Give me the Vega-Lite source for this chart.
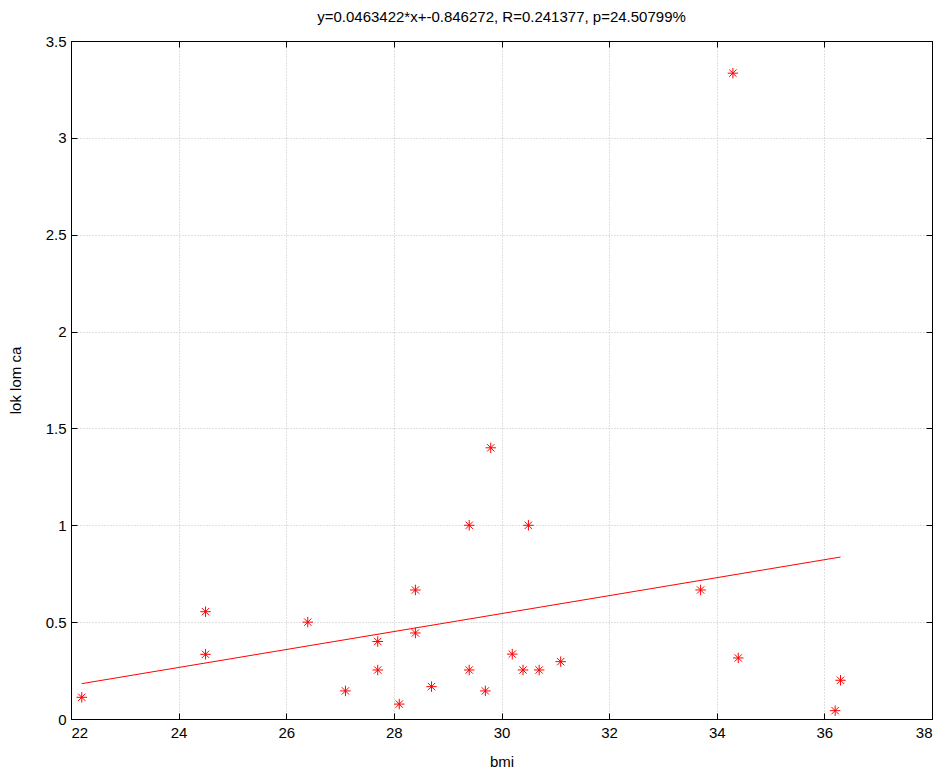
{
  "$schema": "https://vega.github.io/schema/vega-lite/v6.json",
  "width": 861,
  "height": 678,
  "autosize": {"type": "none"},
  "padding": {"left": 71, "top": 41, "right": 15, "bottom": 55},
  "background": "white",
  "config": {
    "font": "Liberation Sans",
    "view": {"stroke": "#000000", "strokeWidth": 1},
    "axis": {
      "labelFont": "Liberation Sans",
      "labelFontSize": 15,
      "labelColor": "#000000",
      "titleFont": "Liberation Sans",
      "titleFontSize": 15,
      "titleFontWeight": "normal",
      "titleColor": "#000000",
      "domainColor": "#000000",
      "tickColor": "#000000",
      "tickSize": -6,
      "gridColor": "#c0c0c0",
      "gridDash": [1, 2],
      "gridWidth": 1
    }
  },
  "title": {
    "text": "y=0.0463422*x+-0.846272, R=0.241377, p=24.50799%",
    "fontSize": 15,
    "fontWeight": "normal",
    "font": "Liberation Sans",
    "color": "#000000",
    "offset": 9
  },
  "datasets": {
    "pts": [
      {"bmi": 22.2, "v": 0.112},
      {"bmi": 24.5, "v": 0.554},
      {"bmi": 24.5, "v": 0.334},
      {"bmi": 26.4, "v": 0.5},
      {"bmi": 27.1, "v": 0.145},
      {"bmi": 27.7, "v": 0.4},
      {"bmi": 27.7, "v": 0.253},
      {"bmi": 28.1, "v": 0.077},
      {"bmi": 28.4, "v": 0.666},
      {"bmi": 28.4, "v": 0.444},
      {"bmi": 28.7, "v": 0.167},
      {"bmi": 29.4, "v": 1.0},
      {"bmi": 29.4, "v": 0.253},
      {"bmi": 29.7, "v": 0.145},
      {"bmi": 29.8, "v": 1.4},
      {"bmi": 30.2, "v": 0.335},
      {"bmi": 30.4, "v": 0.253},
      {"bmi": 30.5, "v": 1.0},
      {"bmi": 30.7, "v": 0.253},
      {"bmi": 31.1, "v": 0.296},
      {"bmi": 33.7, "v": 0.666},
      {"bmi": 34.3, "v": 3.334},
      {"bmi": 34.4, "v": 0.315},
      {"bmi": 36.2, "v": 0.043},
      {"bmi": 36.3, "v": 0.2}
    ],
    "fit": [
      {"bmi": 22.2, "v": 0.1825},
      {"bmi": 36.3, "v": 0.8361}
    ]
  },
  "layer": [
    {
      "data": {"name": "pts"},
      "mark": {
        "type": "point",
        "shape": "M-1,0L1,0M0,-1L0,1M-0.7,-0.7L0.7,0.7M-0.7,0.7L0.7,-0.7",
        "filled": false,
        "stroke": "#ff0000",
        "strokeWidth": 1,
        "size": 110,
        "opacity": 1
      },
      "encoding": {
        "x": {
          "field": "bmi", "type": "quantitative",
          "scale": {"domain": [22, 38], "nice": false, "zero": false},
          "axis": {"title": "bmi", "values": [22, 24, 26, 28, 30, 32, 34, 36, 38], "grid": true, "labelPadding": 12, "titlePadding": 14, "format": "~g"}
        },
        "y": {
          "field": "v", "type": "quantitative",
          "scale": {"domain": [0, 3.5], "nice": false, "zero": false},
          "axis": {"title": "lok lom ca", "values": [0, 0.5, 1, 1.5, 2, 2.5, 3, 3.5], "grid": true, "labelPadding": 11, "titlePadding": 22, "format": "~g"}
        }
      }
    },
    {
      "data": {"name": "fit"},
      "mark": {"type": "line", "color": "#ff0000", "strokeWidth": 1},
      "encoding": {
        "x": {
          "field": "bmi", "type": "quantitative",
          "scale": {"domain": [22, 38], "nice": false, "zero": false},
          "axis": {"orient": "top", "title": null, "labels": false, "values": [22, 24, 26, 28, 30, 32, 34, 36, 38], "grid": false}
        },
        "y": {
          "field": "v", "type": "quantitative",
          "scale": {"domain": [0, 3.5], "nice": false, "zero": false},
          "axis": {"orient": "right", "title": null, "labels": false, "values": [0, 0.5, 1, 1.5, 2, 2.5, 3, 3.5], "grid": false}
        }
      }
    }
  ],
  "resolve": {"axis": {"x": "independent", "y": "independent"}}
}
